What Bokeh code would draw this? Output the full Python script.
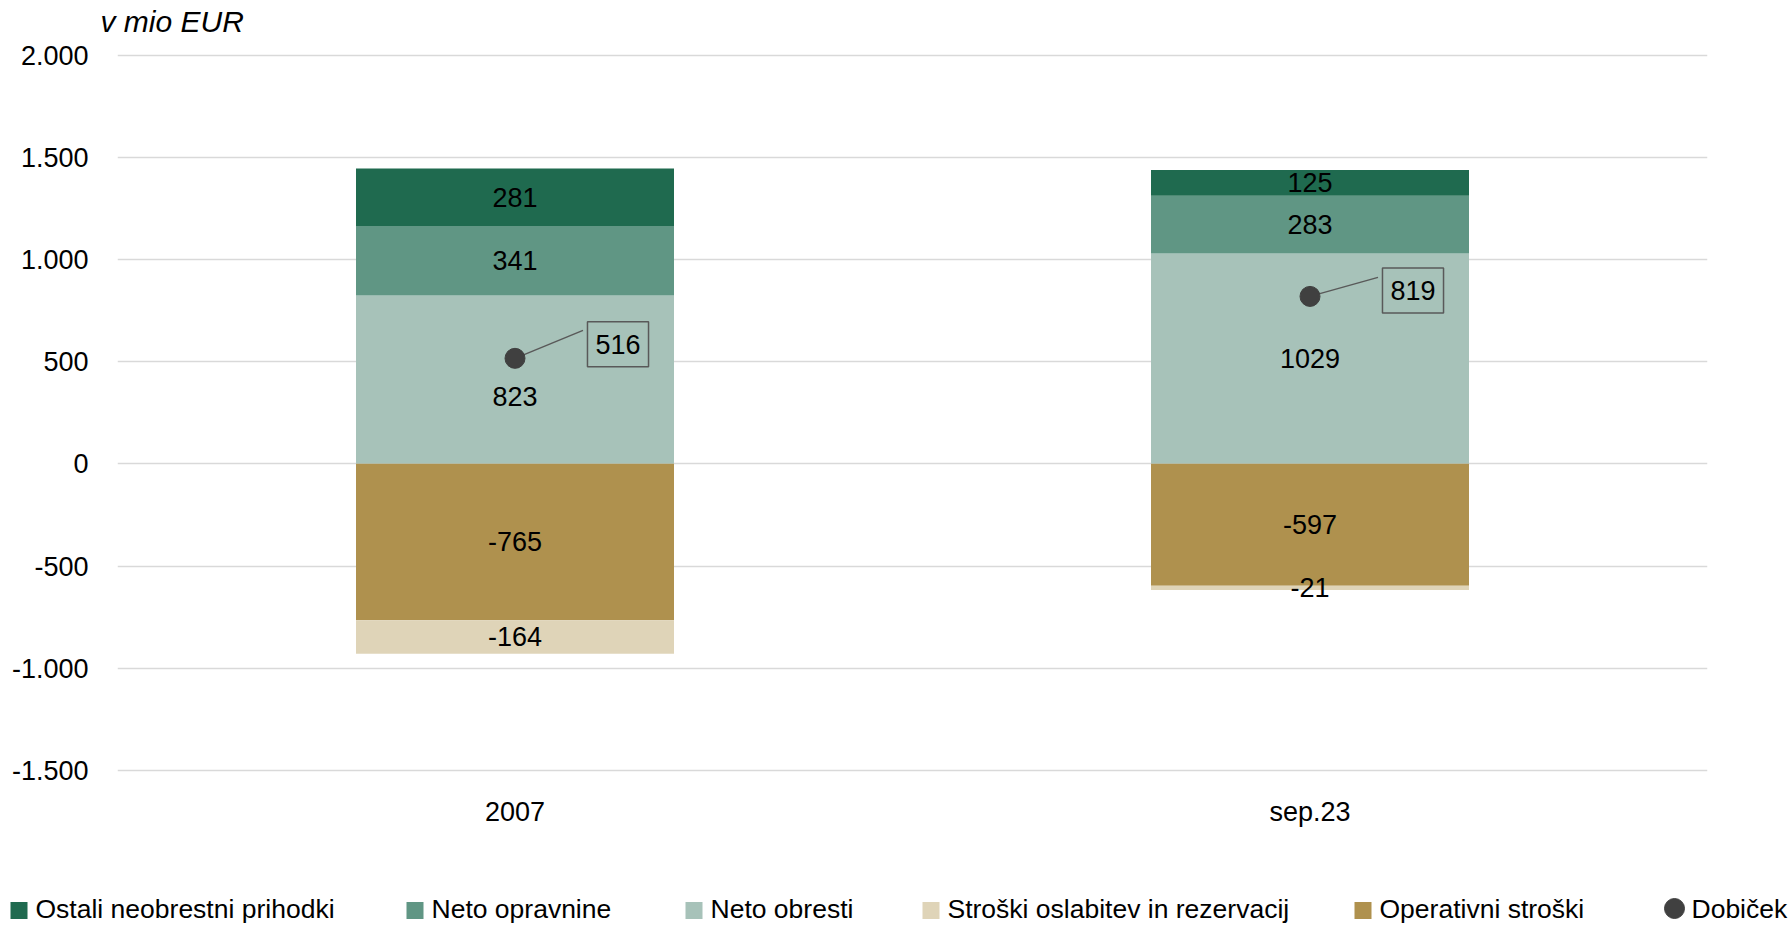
import numpy as np
from bokeh.plotting import figure
from bokeh.layouts import column
from bokeh.models import (FactorRange, Range1d, FixedTicker, CustomJSTickFormatter)
from bokeh.core.properties import value
from bokeh.embed import file_html
from bokeh.resources import INLINE

# ---------------- data ----------------
categories = ["2007", "sep.23"]
ostali_neobrestni = [281, 125]
neto_opravnine = [341, 283]
neto_obresti = [823, 1029]
stroski_oslabitev = [-164, -21]
operativni_stroski = [-765, -597]
dobicek = [516, 819]
y_ticks = [-1500, -1000, -500, 0, 500, 1000, 1500, 2000]
legend_labels = ["Ostali neobrestni prihodki", "Neto opravnine", "Neto obresti",
                 "Stroški oslabitev in rezervacij", "Operativni stroški", "Dobiček"]
y_title = "v mio EUR"

# ---------------- style ----------------
FONT = "Liberation Sans"
FS = "27px"
C_OSTALI = "#1F6A4F"
C_OPRAV = "#609684"
C_OBRESTI = "#A7C2B9"
C_OSLAB = "#DFD4B8"
C_OPER = "#AF914E"
C_DOB = "#404040"

W = 1790
H_TITLE = 39
H_MAIN = 831
H_LEG = 927 - H_TITLE - H_MAIN

BL, BR, BT, BB = 117, 83, 5, 94
FRAME_W = W - BL - BR
FRAME_H = H_MAIN - BT - BB
PX_PER_Y = 102.2 / 500.0          # vertical scale (px per EUR mio)
PAD_TOP_PX = 10.5                 # room above the 2.000 gridline
Y_MAX = 2000 + PAD_TOP_PX / PX_PER_Y
Y_MIN = Y_MAX - FRAME_H / PX_PER_Y
PX_PER_X = FRAME_W / len(categories)


def strip(height):
    f = figure(x_range=Range1d(0, W), y_range=Range1d(0, height), width=W, height=height,
               output_backend="svg", toolbar_location=None,
               min_border_left=0, min_border_right=0, min_border_top=0, min_border_bottom=0,
               x_axis_location=None, y_axis_location=None)
    f.outline_line_color = None
    f.grid.visible = False
    f.frame_align = False
    return f


# ---------------- title strip ----------------
tf = strip(H_TITLE)
tf.text(x=[100], y=[17.7], text=[y_title], text_align="left", text_baseline="middle",
        text_font=value(FONT), text_font_style="italic", text_font_size="30px",
        text_color="black")

# ---------------- main chart ----------------
p = figure(x_range=FactorRange(factors=categories), y_range=Range1d(Y_MIN, Y_MAX),
           width=W, height=H_MAIN, output_backend="svg", toolbar_location=None,
           min_border_left=BL, min_border_right=BR, min_border_top=BT,
           min_border_bottom=BB)
p.outline_line_color = None
p.background_fill_color = "white"
p.border_fill_color = "white"
p.frame_align = False

xc = np.arange(len(categories)) + 0.5

pos_series = [(neto_obresti, C_OBRESTI), (neto_opravnine, C_OPRAV), (ostali_neobrestni, C_OSTALI)]
neg_series = [(operativni_stroski, C_OPER), (stroski_oslabitev, C_OSLAB)]

label_x, label_y, label_t, label_dy = [], [], [], []
# extra screen offset (px, downwards): the "823" label sits lower in the original
extra_dy = {("2007", 823): 17}

bottom = np.zeros(len(categories))
for vals, col in pos_series:
    v = np.array(vals, dtype=float)
    p.vbar(x=categories, bottom=bottom, top=bottom + v, width=0.4,
           fill_color=col, line_color=None)
    for i, c in enumerate(categories):
        label_x.append(c)
        label_y.append(bottom[i] + v[i] / 2)
        label_t.append(str(vals[i]))
        label_dy.append(extra_dy.get((c, vals[i]), 0))
    bottom = bottom + v

top = np.zeros(len(categories))
for vals, col in neg_series:
    v = np.array(vals, dtype=float)
    p.vbar(x=categories, top=top, bottom=top + v, width=0.4,
           fill_color=col, line_color=None)
    for i, c in enumerate(categories):
        label_x.append(c)
        label_y.append(top[i] + v[i] / 2)
        label_t.append(str(vals[i]))
        label_dy.append(extra_dy.get((c, vals[i]), 0))
    top = top + v

p.text(x=label_x, y=label_y, text=label_t, y_offset=label_dy,
       text_align="center", text_baseline="middle",
       text_font=value(FONT), text_font_size=FS, text_color="black")

# Dobicek points with callout boxes
leader_dx_px = [68, 68]
leader_dy_px = [28, 19]
box_dx_px = [103, 103]
box_dy_px = [-14, -6]
x1 = xc + np.array(leader_dx_px) / PX_PER_X
y1 = np.array(dobicek) + np.array(leader_dy_px) / PX_PER_Y
p.segment(x0=xc, y0=dobicek, x1=x1, y1=y1, line_color="#595959", line_width=1.5)
p.scatter(x=xc, y=dobicek, size=20, fill_color=C_DOB, line_color=C_DOB)
p.text(x=xc, y=dobicek, text=[str(v) for v in dobicek],
       x_offset=box_dx_px, y_offset=box_dy_px,
       text_align="center", text_baseline="middle",
       text_font=value(FONT), text_font_size=FS, text_color="black",
       border_line_color="#595959", border_line_width=1.5,
       padding=dict(left=8, right=8, top=13, bottom=13))

# axes
p.yaxis.ticker = FixedTicker(ticks=y_ticks)
p.yaxis.formatter = CustomJSTickFormatter(code=r"""
const s = Math.abs(tick).toFixed(0).replace(/\B(?=(\d{3})+(?!\d))/g, '.');
return (tick < 0 ? '-' : '') + s;
""")
for ax in (p.xaxis, p.yaxis):
    ax.axis_line_color = None
    ax.major_tick_line_color = None
    ax.minor_tick_line_color = None
    ax.major_tick_out = 0
    ax.major_tick_in = 0
    ax.major_label_text_font = FONT
    ax.major_label_text_font_size = FS
    ax.major_label_text_color = "black"
p.yaxis.major_label_standoff = 29
p.xaxis.major_label_standoff = 20
p.xgrid.grid_line_color = None
p.ygrid.ticker = FixedTicker(ticks=y_ticks)
p.ygrid.grid_line_color = "#D9D9D9"
p.ygrid.grid_line_width = 1.5

# ---------------- legend strip ----------------
leg = strip(H_LEG)
leg_colors = [C_OSTALI, C_OPRAV, C_OBRESTI, C_OSLAB, C_OPER, C_DOB]
leg_glyph_left = [10, 406, 685, 922, 1354, 1664]
leg_text_gap = [25, 25, 25, 25, 25, 27]
leg_sq_y = 17
leg_dot_y = 19
leg_text_y = 18.5
sq_x = [l + 8.5 for l in leg_glyph_left[:5]]
leg.rect(x=sq_x, y=[leg_sq_y] * 5, width=17, height=17,
         fill_color=leg_colors[:5], line_color=None)
leg.scatter(x=[leg_glyph_left[5] + 10], y=[leg_dot_y], size=20,
            fill_color=C_DOB, line_color=C_DOB)
leg.text(x=[l + g for l, g in zip(leg_glyph_left, leg_text_gap)], y=[leg_text_y] * 6,
         text=legend_labels, text_align="left", text_baseline="middle",
         text_font=value(FONT), text_font_size="26.5px", text_color="black")

layout = column(tf, p, leg, spacing=0)
open("out.html", "w").write(file_html(layout, INLINE))
